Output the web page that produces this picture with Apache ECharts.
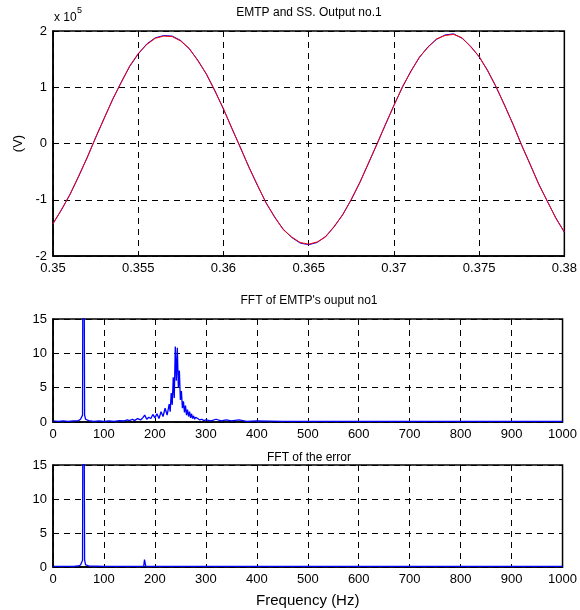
<!DOCTYPE html>
<html>
<head>
<meta charset="utf-8">
<script src="https://cdn.jsdelivr.net/npm/echarts@6/dist/echarts.min.js"></script>
<style>
  html, body { margin: 0; padding: 0; background: #fff; }
  #chart { width: 580px; height: 610px; }
</style>
</head>
<body>
<div id="chart"></div>
<script>
// time axis of the top plot (s)
var time = [
  0.35, 0.3505, 0.351, 0.3515, 0.352, 0.3525, 0.353, 0.3535, 0.354, 0.3545,
  0.355, 0.3555, 0.356, 0.3565, 0.357, 0.3575, 0.358, 0.3585, 0.359, 0.3595,
  0.36, 0.3605, 0.361, 0.3615, 0.362, 0.3625, 0.363, 0.3635, 0.364, 0.3645,
  0.365, 0.3655, 0.366, 0.3665, 0.367, 0.3675, 0.368, 0.3685, 0.369, 0.3695,
  0.37, 0.3705, 0.371, 0.3715, 0.372, 0.3725, 0.373, 0.3735, 0.374, 0.3745,
  0.375, 0.3755, 0.376, 0.3765, 0.377, 0.3775, 0.378, 0.3785, 0.379, 0.3795,
  0.38
];
// output voltage, in units of 1e5 V
var emtpOut = [
  -1.42, -1.18, -0.90, -0.59, -0.25, 0.10, 0.45, 0.78, 1.09, 1.37,
  1.59, 1.77, 1.88, 1.92, 1.91, 1.83, 1.68, 1.48, 1.23, 0.94,
  0.61, 0.27, -0.08, -0.42, -0.75, -1.05, -1.31, -1.52, -1.67, -1.77,
  -1.80, -1.76, -1.65, -1.48, -1.26, -1.00, -0.69, -0.36, -0.01, 0.33,
  0.68, 1.00, 1.29, 1.53, 1.72, 1.85, 1.93, 1.95, 1.87, 1.73,
  1.54, 1.30, 1.00, 0.68, 0.33, -0.03, -0.38, -0.72, -1.03, -1.32,
  -1.58
];
var ssOut = [
  -1.43, -1.17, -0.91, -0.58, -0.26, 0.11, 0.44, 0.79, 1.08, 1.38,
  1.60, 1.76, 1.87, 1.91, 1.90, 1.82, 1.69, 1.47, 1.24, 0.93,
  0.62, 0.26, -0.07, -0.43, -0.74, -1.06, -1.30, -1.53, -1.66, -1.76,
  -1.79, -1.75, -1.66, -1.47, -1.27, -0.99, -0.70, -0.35, -0.02, 0.34,
  0.67, 1.01, 1.28, 1.54, 1.71, 1.86, 1.92, 1.94, 1.88, 1.72,
  1.55, 1.29, 1.01, 0.67, 0.34, -0.04, -0.37, -0.73, -1.02, -1.33,
  -1.57
];

// FFT of EMTP output
var emtpFreq = [
  0, 10, 20, 30, 40, 50, 54, 58, 59.6, 60.4, 62, 64, 70, 80, 90, 100,
  110, 120, 130, 140, 146, 150, 156, 160, 166, 172, 176, 180, 184, 188,
  192, 196, 200, 204, 208, 212, 216, 220, 224, 228, 230, 232, 234, 236,
  238, 240, 242, 244, 246, 248, 250, 252, 254, 256, 258, 260, 262, 264,
  266, 268, 270, 272, 274, 276, 278, 280, 284, 288, 292, 296, 300, 310,
  320, 330, 340, 350, 365, 380, 400, 450, 500, 600, 700, 800, 900, 1000
];
var emtpAmp = [
  0.15, 0.1, 0.15, 0.1, 0.15, 0.2, 0.4, 1.0, 60, 60, 1.0, 0.4, 0.2, 0.1, 0.15, 0.1,
  0.15, 0.1, 0.2, 0.15, 0.3, 0.2, 0.4, 0.2, 0.5, 0.3, 0.6, 1.0, 0.4, 0.7,
  0.5, 1.1, 0.6, 1.2, 0.5, 1.5, 0.8, 2.0, 1.0, 2.6, 1.5, 4.2, 2.5, 6.5,
  3.5, 11.0, 6.0, 10.8, 5.0, 7.5, 3.2, 4.5, 2.0, 3.0, 1.4, 2.4, 1.0, 1.8,
  0.8, 1.5, 0.6, 1.2, 0.5, 0.9, 0.4, 0.7, 0.5, 0.3, 0.4, 0.2, 0.3, 0.15,
  0.4, 0.15, 0.3, 0.15, 0.3, 0.1, 0.15, 0.1, 0.1, 0.1, 0.1, 0.1, 0.1, 0.1
];

// FFT of the error
var errFreq = [0, 20, 40, 50, 54, 58, 59.6, 60.4, 62, 64, 70, 100, 150, 178, 179.6, 180.4, 182, 250, 400, 600, 800, 1000];
var errAmp = [0.1, 0.1, 0.1, 0.15, 0.3, 1.0, 60, 60, 1.0, 0.3, 0.15, 0.1, 0.1, 0.1, 1.1, 1.1, 0.1, 0.1, 0.1, 0.1, 0.1, 0.1];

var xTicks = [0, 100, 200, 300, 400, 500, 600, 700, 800, 900, 1000];
var fftTicks = [0, 5, 10, 15];

function pairs(xs, ys) {
  return xs.map(function (x, i) { return [x, ys[i]]; });
}

var font = '"Liberation Sans", Arial, sans-serif';
var dashed = { show: true, lineStyle: { color: "#000", type: [6, 5], width: 1 } };
var axisLine = { show: true, onZero: false, lineStyle: { color: "#000", width: 1.5 } };
var label = { color: "#000", fontSize: 13, fontFamily: font };
var plain = function (v) { return String(v); };

function valueX(idx, min, max, interval, fmt) {
  return {
    type: "value", gridIndex: idx, min: min, max: max, interval: interval,
    axisLine: axisLine, axisTick: { show: false }, splitLine: dashed,
    axisLabel: Object.assign({ margin: 6, formatter: fmt || plain }, label)
  };
}
function valueY(idx, min, max, interval) {
  return {
    type: "value", gridIndex: idx, min: min, max: max, interval: interval,
    axisLine: axisLine, axisTick: { show: false }, splitLine: dashed,
    axisLabel: Object.assign({ margin: 6, formatter: plain }, label)
  };
}

var chart = echarts.init(document.getElementById("chart"));

var xBottom = valueX(2, xTicks[0], xTicks[xTicks.length - 1], 100);
xBottom.name = "Frequency (Hz)";
xBottom.nameLocation = "middle";
xBottom.nameGap = 26;
xBottom.nameTextStyle = { color: "#000", fontSize: 15, fontFamily: font };

var yTop = valueY(0, -2, 2, 1);
yTop.name = "(V)";
yTop.nameLocation = "middle";
yTop.nameGap = 28;
yTop.nameTextStyle = { color: "#000", fontSize: 13, fontFamily: font };

var option = {
  animation: false,
  backgroundColor: "#fff",
  grid: [
    { left: 53, right: 15, top: 31, height: 225, show: true, borderColor: "#000", borderWidth: 1.5 },
    { left: 53, right: 15, top: 319, height: 103, show: true, borderColor: "#000", borderWidth: 1.5 },
    { left: 53, right: 15, top: 465, height: 102, show: true, borderColor: "#000", borderWidth: 1.5 }
  ],
  xAxis: [
    valueX(0, 0.35, 0.38, 0.005, function (v) { return String(+v.toFixed(3)); }),
    valueX(1, xTicks[0], xTicks[xTicks.length - 1], 100),
    xBottom
  ],
  yAxis: [
    yTop,
    valueY(1, fftTicks[0], fftTicks[fftTicks.length - 1], 5),
    valueY(2, fftTicks[0], fftTicks[fftTicks.length - 1], 5)
  ],
  graphic: [
    { type: "text", x: 309, y: 13, style: { text: "EMTP and SS. Output no.1", font: "12px " + font, fill: "#000", align: "center", verticalAlign: "middle" } },
    { type: "text", x: 54, y: 18, style: { text: "x 10", font: "12px " + font, fill: "#000", align: "left", verticalAlign: "middle" } },
    { type: "text", x: 77, y: 11, style: { text: "5", font: "9px " + font, fill: "#000", align: "left", verticalAlign: "middle" } },
    { type: "text", x: 309, y: 301, style: { text: "FFT of EMTP's ouput no1", font: "12px " + font, fill: "#000", align: "center", verticalAlign: "middle" } },
    { type: "text", x: 309, y: 458, style: { text: "FFT of the error", font: "12px " + font, fill: "#000", align: "center", verticalAlign: "middle" } }
  ],
  series: [
    {
      name: "EMTP", type: "line", xAxisIndex: 0, yAxisIndex: 0, showSymbol: false,
      lineStyle: { color: "#0000ff", width: 1 }, data: pairs(time, emtpOut)
    },
    {
      name: "SS", type: "line", xAxisIndex: 0, yAxisIndex: 0, showSymbol: false,
      lineStyle: { color: "#ff0000", width: 1 }, data: pairs(time, ssOut)
    },
    {
      name: "FFT EMTP", type: "line", xAxisIndex: 1, yAxisIndex: 1, showSymbol: false, clip: true,
      lineStyle: { color: "#0000ff", width: 1.3 }, data: pairs(emtpFreq, emtpAmp)
    },
    {
      name: "FFT error", type: "line", xAxisIndex: 2, yAxisIndex: 2, showSymbol: false, clip: true,
      lineStyle: { color: "#0000ff", width: 1.3 }, data: pairs(errFreq, errAmp)
    }
  ]
};

chart.setOption(option);
</script>
</body>
</html>
